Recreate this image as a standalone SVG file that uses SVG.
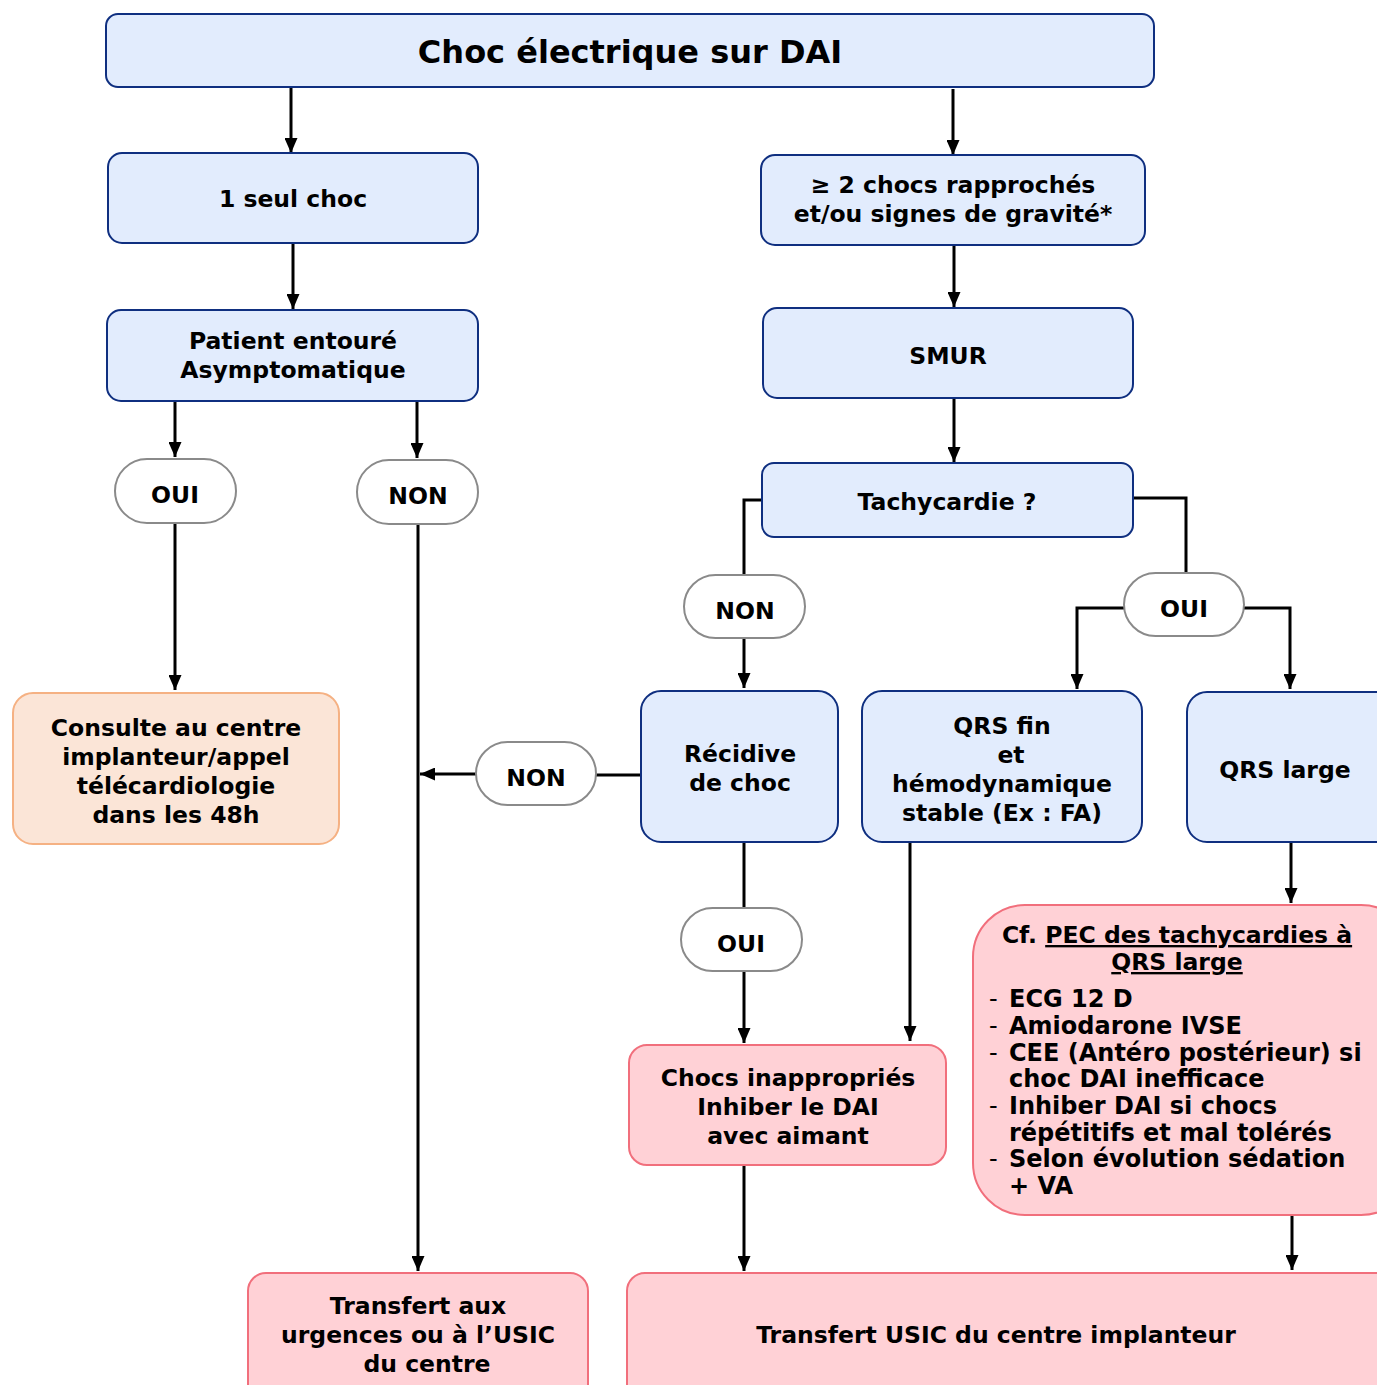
<svg xmlns="http://www.w3.org/2000/svg" width="1377" height="1385" viewBox="0 0 1377 1385">
<defs>
<marker id="ah" viewBox="0 0 15 13" refX="15" refY="6.5" markerWidth="15" markerHeight="13" markerUnits="userSpaceOnUse" orient="auto">
<path d="M0,0 L15,6.5 L0,13 Z" fill="#000"/>
</marker>
<style>
text{font-family:"DejaVu Sans","Verdana",sans-serif;font-weight:bold;font-size:23.5px;fill:#000;text-anchor:middle}
.blue{fill:#E2ECFD;stroke:#0F2F80;stroke-width:2}
.peach{fill:#FBE5D7;stroke:#F5B183;stroke-width:2}
.pink{fill:#FFD1D6;stroke:#F16F7C;stroke-width:2}
.pill{fill:#fff;stroke:#8A8A8A;stroke-width:2}
.c{fill:none;stroke:#000;stroke-width:3}
.a{fill:none;stroke:#000;stroke-width:3;marker-end:url(#ah)}
.l{text-anchor:start;font-size:24px}
.d{text-anchor:start;font-size:24px;font-weight:normal}
</style>
</defs>
<rect width="1377" height="1385" fill="#fff"/>

<g id="connectors">
<path class="a" d="M291,87 V153"/>
<path class="a" d="M953,89 V155"/>
<path class="a" d="M293,243 V309"/>
<path class="a" d="M954,245 V307"/>
<path class="a" d="M954,398 V462"/>
<path class="a" d="M175,401 V457"/>
<path class="a" d="M417,401 V458"/>
<path class="a" d="M175,523 V690"/>
<path class="a" d="M418,524 V1271"/>
<path class="c" d="M762,500 H744 V575"/>
<path class="a" d="M744,638 V688"/>
<path class="c" d="M1133,498 H1186 V573"/>
<path class="a" d="M1124,608 H1077 V689"/>
<path class="a" d="M1244,608 H1290 V689"/>
<path class="c" d="M641,775 H596"/>
<path class="a" d="M476,774 H420"/>
<path class="c" d="M744,842 V908"/>
<path class="a" d="M744,971 V1043"/>
<path class="a" d="M910,842 V1041"/>
<path class="a" d="M1291,842 V903"/>
<path class="a" d="M744,1165 V1271"/>
<path class="a" d="M1292,1215 V1270"/>
</g>

<g id="title">
<rect class="blue" x="106" y="14" width="1048" height="73" rx="12"/>
<text x="630" y="63" style="font-size:32px">Choc électrique sur DAI</text>
</g>

<g id="seul-choc">
<rect class="blue" x="108" y="153" width="370" height="90" rx="14"/>
<text x="293" y="207">1 seul choc</text>
</g>

<g id="deux-chocs">
<rect class="blue" x="761" y="155" width="384" height="90" rx="14"/>
<text x="953" y="193">≥ 2 chocs rapprochés</text>
<text x="953" y="222">et/ou signes de gravité*</text>
</g>

<g id="patient">
<rect class="blue" x="107" y="310" width="371" height="91" rx="14"/>
<text x="293" y="349">Patient entouré</text>
<text x="293" y="378">Asymptomatique</text>
</g>

<g id="smur">
<rect class="blue" x="763" y="308" width="370" height="90" rx="14"/>
<text x="948" y="364">SMUR</text>
</g>

<g id="tachycardie">
<rect class="blue" x="762" y="463" width="371" height="74" rx="12"/>
<text x="947" y="510">Tachycardie ?</text>
</g>

<g id="oui-1">
<rect class="pill" x="115" y="459" width="121" height="64" rx="32"/>
<text x="175" y="503">OUI</text>
</g>

<g id="non-1">
<rect class="pill" x="357" y="460" width="121" height="64" rx="32"/>
<text x="418" y="504">NON</text>
</g>

<g id="non-2">
<rect class="pill" x="684" y="575" width="121" height="63" rx="31.5"/>
<text x="745" y="619">NON</text>
</g>

<g id="oui-2">
<rect class="pill" x="1124" y="573" width="120" height="63" rx="31.5"/>
<text x="1184" y="617">OUI</text>
</g>

<g id="consulte">
<rect class="peach" x="13" y="693" width="326" height="151" rx="20"/>
<text x="176" y="736">Consulte au centre</text>
<text x="176" y="765">implanteur/appel</text>
<text x="176" y="794">télécardiologie</text>
<text x="176" y="823">dans les 48h</text>
</g>

<g id="non-3">
<rect class="pill" x="476" y="742" width="120" height="63" rx="31.5"/>
<text x="536" y="786">NON</text>
</g>

<g id="recidive">
<rect class="blue" x="641" y="691" width="197" height="151" rx="20"/>
<text x="740" y="762">Récidive</text>
<text x="740" y="791">de choc</text>
</g>

<g id="qrs-fin">
<rect class="blue" x="862" y="691" width="280" height="151" rx="20"/>
<text x="1002" y="734">QRS fin</text>
<text x="1011" y="763">et</text>
<text x="1002" y="792">hémodynamique</text>
<text x="1002" y="821">stable (Ex : FA)</text>
</g>

<g id="qrs-large">
<rect class="blue" x="1187" y="692" width="210" height="150" rx="20"/>
<text x="1285" y="778">QRS large</text>
</g>

<g id="oui-3">
<rect class="pill" x="681" y="908" width="121" height="63" rx="31.5"/>
<text x="741" y="952">OUI</text>
</g>

<g id="chocs-inappropries">
<rect class="pink" x="629" y="1045" width="317" height="120" rx="18"/>
<text x="788" y="1086">Chocs inappropriés</text>
<text x="788" y="1115">Inhiber le DAI</text>
<text x="788" y="1144">avec aimant</text>
</g>

<g id="pec">
<rect class="pink" x="973" y="905" width="440" height="310" rx="52"/>
<text x="1177" y="943">Cf. <tspan text-decoration="underline">PEC des tachycardies à</tspan></text>
<text x="1177" y="970" text-decoration="underline">QRS large</text>
<text class="d" x="989" y="1007">-</text>
<text class="l" x="1009" y="1007">ECG 12 D</text>
<text class="d" x="989" y="1034">-</text>
<text class="l" x="1009" y="1034">Amiodarone IVSE</text>
<text class="d" x="989" y="1061">-</text>
<text class="l" x="1009" y="1061">CEE (Antéro postérieur) si</text>
<text class="l" x="1009" y="1087">choc DAI inefficace</text>
<text class="d" x="989" y="1114">-</text>
<text class="l" x="1009" y="1114">Inhiber DAI si chocs</text>
<text class="l" x="1009" y="1141">répétitifs et mal tolérés</text>
<text class="d" x="989" y="1167">-</text>
<text class="l" x="1009" y="1167">Selon évolution sédation</text>
<text class="l" x="1009" y="1194">+ VA</text>
</g>

<g id="transfert-urgences">
<rect class="pink" x="248" y="1273" width="340" height="130" rx="18"/>
<text x="418" y="1314">Transfert aux</text>
<text x="418" y="1343">urgences ou à l’USIC</text>
<text x="427" y="1372">du centre</text>
</g>

<g id="transfert-usic">
<rect class="pink" x="627" y="1273" width="780" height="130" rx="18"/>
<text x="996" y="1343">Transfert USIC du centre implanteur</text>
</g>
</svg>
